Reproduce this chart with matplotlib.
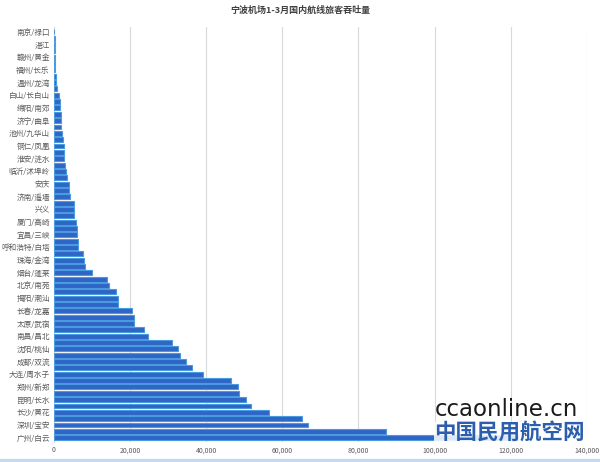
import numpy as np
import matplotlib.pyplot as plt
from matplotlib.patches import Rectangle

plt.rcParams['font.family'] = ['Noto Sans CJK SC', 'DejaVu Sans']

# 标注的机场（每隔一根柱子标一个）
labels = ['南京/禄口', '湛江', '赣州/黄金', '福州/长乐', '温州/龙湾', '白山/长白山',
          '绵阳/南郊', '济宁/曲阜', '池州/九华山', '铜仁/凤凰', '淮安/涟水', '临沂/沭埠岭',
          '安庆', '济南/遥墙', '兴义', '厦门/高崎', '宜昌/三峡', '呼和浩特/白塔',
          '珠海/金湾', '烟台/蓬莱', '北京/南苑', '揭阳/潮汕', '长春/龙嘉', '太原/武宿',
          '南昌/昌北', '沈阳/桃仙', '成都/双流', '大连/周水子', '郑州/新郑', '昆明/长水',
          '长沙/黄花', '深圳/宝安', '广州/白云']

# 旅客吞吐量（人次），自上而下
passengers = [120, 150, 180, 200, 250, 300, 350, 420, 550,
              900, 1400, 1600, 1700, 1800, 1900, 1900, 2100, 2300, 2500, 2600,
              2700, 2800, 3200, 3300, 3900, 4000, 4300, 5200, 5200, 5300,
              5700, 6000, 6000, 6200, 6200, 7700, 7900, 8100, 9900,
              14000, 14500, 16300, 16700, 16800, 20600, 20900, 21100, 23600, 24600,
              31000, 32600, 33000, 34800, 36300, 39100, 46600, 48300, 48500, 50500,
              51800, 56500, 65200, 66800, 87300, 121800]

xticks = [0, 20000, 40000, 60000, 80000, 100000, 120000, 140000]

fig = plt.figure(figsize=(6, 4.62), dpi=100)
ax = fig.add_axes([0.09, 0.043, 0.888, 0.899])

pos = np.arange(len(passengers))
ax.barh(pos, passengers, height=0.78, color='#2f66c6', edgecolor='#4a9ae0', linewidth=0.8, zorder=3)

ax.set_ylim(64.7, -0.8)
ax.set_xlim(0, 140000)
ax.set_yticks(pos[::2])
ax.set_yticklabels(labels, fontsize=5.5, color='#595959')
ax.set_xticks(xticks)
ax.set_xticklabels([f'{v:,}' for v in xticks], fontsize=5, color='#595959')
ax.tick_params(axis='both', length=0, pad=3)
ax.grid(axis='x', color='#d9d9d9', linewidth=0.8, zorder=0)
for s in ['top', 'right', 'bottom']:
    ax.spines[s].set_visible(False)
ax.spines['left'].set_color('#d9d9d9')

fig.text(0.5, 0.978, '宁波机场1-3月国内航线旅客吞吐量', ha='center', va='center',
         fontsize=6.5, fontweight='bold', color='#404040')

# 水印
fig.text(0.724, 0.114, 'ccaonline.cn', ha='left', va='center', fontsize=16.5,
         color='#1a1a1a', family=['DejaVu Sans'])
fig.text(0.724, 0.062, '中国民用航空网', ha='left', va='center', fontsize=15.5,
         fontweight='bold', color='#2b5fae',
         bbox=dict(facecolor='white', edgecolor='none', alpha=0.85, pad=0.5))

fig.add_artist(Rectangle((0, 0), 1, 0.006, transform=fig.transFigure, color='#c5d9f1'))

fig.savefig('out.png', dpi=100)
